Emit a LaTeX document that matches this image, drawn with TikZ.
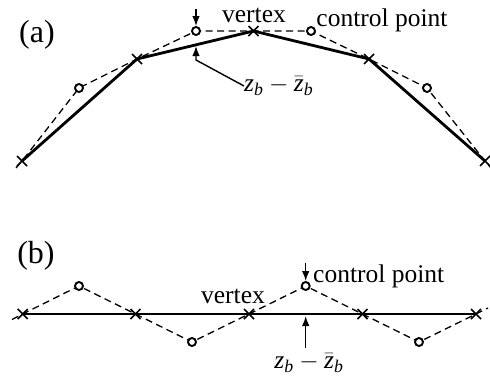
\documentclass[tikz,border=0pt]{standalone}
\usepackage{amsmath}
\usepackage{fontspec}
\setmainfont{Liberation Serif}
\usetikzlibrary{arrows.meta,shapes.misc,calc}
\newcommand{\zdiff}{$\textit{z}_{\textit{b}}-\bar{\textit{z}}_{\textit{b}}$}
\tikzset{
  curve/.style={line width=2.8pt},
  ctrl/.style={line width=1.3pt, dash pattern=on 7pt off 4.5pt},
  vmark/.style={cross out, draw, line width=1.5pt, minimum size=8.5pt, inner sep=0pt},
  cmark/.style={circle, draw, line width=1.9pt, fill=white, minimum size=8pt, inner sep=0pt},
  lbl/.style={font=\fontsize{25.5}{30}\selectfont, inner sep=0pt},
  plbl/.style={font=\fontsize{32}{36}\selectfont, inner sep=0pt},
  pointer/.style={line width=1.4pt, -{Latex[length=10pt,width=7.5pt]}},
}
\begin{document}
\begin{tikzpicture}[x=1pt,y=-1pt]
\useasboundingbox (0,0) rectangle (490,381);
% ---------- (a) ----------
\coordinate (a1) at (22,161);
\coordinate (a2) at (137,59);
\coordinate (a3) at (253.5,31);
\coordinate (a4) at (369,59);
\coordinate (a5) at (485,161);
\coordinate (c1) at (79,88);
\coordinate (c2) at (196,31);
\coordinate (c3) at (311,31);
\coordinate (c4) at (427,88);
\coordinate (ae1) at (16,168);
\coordinate (ae2) at (491,168);
\draw[ctrl] (ae1) -- (a1) -- (c1) -- (a2) -- (c2) -- (c3) -- (a4) -- (c4) -- (a5) -- (ae2);
\draw[curve] (a1) -- (a2) -- (a3) -- (a4) -- (a5);
\foreach \p in {a1,a2,a3,a4,a5} \node[vmark] at (\p) {};
\foreach \p in {c1,c2,c3,c4} \node[cmark] (m\p) at (\p) {};
\node[plbl] (la) at (37,35) {(a)};
\node[lbl, anchor=base] (va) at (254,22) {vertex};
\node[lbl, anchor=base] (cpa) at (382,26) {control point};
\node[lbl, anchor=west] (za) at (244,86) {\zdiff};
\coordinate (ta) at (196,9);
\coordinate (ka) at (196,60);
\coordinate (tipa) at (196,46);
\draw[pointer] (ta) -- (mc2.north);
\draw[pointer] (za.west) -- (ka) -- (tipa);
% ---------- (b) ----------
\coordinate (b1) at (22.7,314);
\coordinate (b2) at (135.5,314);
\coordinate (b3) at (249,314);
\coordinate (b4) at (362.5,314);
\coordinate (b5) at (476,314);
\coordinate (d1) at (79,286);
\coordinate (d2) at (192,342);
\coordinate (d3) at (305.7,286);
\coordinate (d4) at (419,342);
\coordinate (be1) at (12,319.5);
\coordinate (be2) at (488,308);
\draw[ctrl] (be1) -- (b1) -- (d1) -- (b2) -- (d2) -- (b3) -- (d3) -- (b4) -- (d4) -- (b5) -- (be2);
\draw[curve] (b1) -- (b5);
\foreach \p in {b1,b2,b3,b4,b5} \node[vmark] at (\p) {};
\foreach \p in {d1,d2,d3,d4} \node[cmark] (m\p) at (\p) {};
\node[plbl] (lb) at (36,256) {(b)};
\node[lbl, anchor=base] (vb) at (233,303) {vertex};
\node[lbl, anchor=base west] (cpb) at (313,282) {control point};
\node[lbl] (zb) at (309,363) {\zdiff};
\coordinate (tb) at (305.7,263);
\coordinate (bb) at (305.7,348);
\coordinate (tipb) at (305.7,316);
\draw[pointer] (tb) -- (md3.north);
\draw[pointer] (bb) -- (tipb);
\end{tikzpicture}
\end{document}
